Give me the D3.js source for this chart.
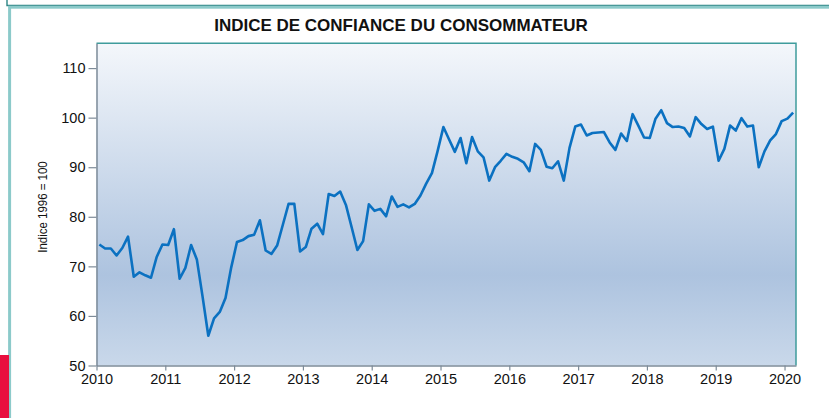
<!DOCTYPE html>
<html>
<head>
<meta charset="utf-8">
<script src="https://cdn.jsdelivr.net/npm/d3@7"></script>
<style>
    body { margin: 0; background: #fff; }
    text { font-family: "Liberation Sans", Arial, sans-serif; }
</style>
</head>
<body>
<svg id="chart" width="829" height="418"></svg>
<script>

// Monthly index, Jan 2010 -> Feb 2020
var values = [
    74.4, 73.6, 73.6, 72.2, 73.7, 76.0, 67.9, 68.8, 68.2, 67.7, 71.9, 74.4,
    74.3, 77.5, 67.5, 69.7, 74.3, 71.4, 63.9, 56.0, 59.5, 60.8, 63.6, 69.8,
    74.9, 75.3, 76.1, 76.4, 79.3, 73.2, 72.5, 74.2, 78.4, 82.6, 82.6, 73.0,
    73.9, 77.6, 78.6, 76.5, 84.6, 84.2, 85.1, 82.4, 77.9, 73.3, 75.1, 82.5,
    81.2, 81.6, 80.1, 84.1, 82.0, 82.5, 81.9, 82.6, 84.3, 86.7, 88.8, 93.3,
    98.1, 95.6, 93.1, 95.9, 90.8, 96.1, 93.2, 92.0, 87.3, 90.0, 91.3, 92.7,
    92.1, 91.7, 91.0, 89.2, 94.7, 93.5, 90.1, 89.8, 91.2, 87.3, 93.9, 98.2,
    98.6, 96.4, 96.9, 97.0, 97.1, 95.0, 93.5, 96.8, 95.3, 100.7, 98.4, 96.0,
    95.9, 99.8, 101.5, 98.9, 98.1, 98.2, 97.9, 96.2, 100.1, 98.7, 97.7, 98.2,
    91.3, 93.7, 98.4, 97.4, 99.9, 98.2, 98.4, 90.0, 93.2, 95.4, 96.7, 99.3,
    99.8, 101.0
];
var startYear = 2010;
var yearTicks = [2010, 2011, 2012, 2013, 2014, 2015, 2016, 2017, 2018, 2019, 2020];
var yTicks = [50, 60, 70, 80, 90, 100, 110];

var title = "INDICE DE CONFIANCE DU CONSOMMATEUR";
var yLabel = "Indice 1996 = 100";

var plot = {left: 96.5, right: 796, top: 43.3, bottom: 365.5};


LineChart = function(_svg, _data) {
    this.svg = _svg;
    this.data = _data;
    this.initVis();
}

LineChart.prototype.initVis = function() {
    var vis = this;

    // page frame bits (outer box, red tab)
    vis.svg.append("path")
        .attr("d", "M7,0 V5.5 H829")
        .attr("fill", "none")
        .attr("stroke", "#2d8585")
        .attr("stroke-width", 1.4);

    vis.svg.append("rect")
        .attr("x", 9.6).attr("y", 7.2)
        .attr("width", 840).attr("height", 430)
        .attr("fill", "none")
        .attr("stroke", "#8ccaca")
        .attr("stroke-width", 3);

    vis.svg.append("rect")
        .attr("x", 0).attr("y", 355)
        .attr("width", 9).attr("height", 63)
        .attr("fill", "#e8103f");

    // background gradient
    var grad = vis.svg.append("defs").append("linearGradient")
        .attr("id", "bg")
        .attr("x1", 0).attr("y1", 0).attr("x2", 0).attr("y2", 1);
    grad.append("stop").attr("offset", "0%").attr("stop-color", "#f4f7fb");
    grad.append("stop").attr("offset", "72%").attr("stop-color", "#adc3df");
    grad.append("stop").attr("offset", "100%").attr("stop-color", "#c9d8ea");

    vis.svg.append("rect")
        .attr("x", plot.left).attr("y", plot.top)
        .attr("width", plot.right - plot.left)
        .attr("height", plot.bottom - plot.top)
        .attr("fill", "url(#bg)");

    // top + right border
    vis.svg.append("path")
        .attr("d", "M" + plot.left + "," + plot.top + " H" + plot.right + " V" + plot.bottom)
        .attr("fill", "none")
        .attr("stroke", "#3f9c9c")
        .attr("stroke-width", 1.5);

    vis.x = d3.scaleLinear()
        .domain([startYear, startYear + vis.data.length / 12])
        .range([plot.left, plot.right]);

    vis.y = d3.scaleLinear()
        .domain([50, 115])
        .range([plot.bottom, plot.top]);

    vis.svg.append("text")
        .attr("x", 401)
        .attr("y", 31)
        .attr("text-anchor", "middle")
        .style("font-size", "17px")
        .style("font-weight", "bold")
        .attr("fill", "#111")
        .text(title);

    // narrow-looking axis title
    vis.svg.append("text")
        .attr("transform", "translate(47,207) rotate(-90) scale(0.85,1)")
        .attr("text-anchor", "middle")
        .style("font-size", "13.5px")
        .attr("fill", "#111")
        .text(yLabel);

    vis.wrangleData();
}

LineChart.prototype.wrangleData = function() {
    var vis = this;

    // month i sits in the middle of its slot
    vis.points = vis.data.map(function(v, i) {
        return {t: startYear + (i + 0.5) / 12, value: v};
    });

    vis.updateVis();
}

LineChart.prototype.updateVis = function() {
    var vis = this;

    var yAxis = d3.axisLeft(vis.y)
        .tickValues(yTicks)
        .tickSize(8)
        .tickPadding(3)
        .tickSizeOuter(0);

    var xAxis = d3.axisBottom(vis.x)
        .tickValues(yearTicks)
        .tickFormat(d3.format("d"))
        .tickSize(5)
        .tickPadding(3)
        .tickSizeOuter(0);

    var gy = vis.svg.append("g")
        .attr("transform", "translate(" + plot.left + ",0)")
        .call(yAxis);

    var gx = vis.svg.append("g")
        .attr("transform", "translate(0," + plot.bottom + ")")
        .call(xAxis);

    [gx, gy].forEach(function(g) {
        g.select(".domain").attr("stroke", "#7d8b98").attr("stroke-width", 1.5);
        g.selectAll(".tick line").attr("stroke", "#7d8b98").attr("stroke-width", 1.2);
        g.selectAll(".tick text")
            .style("font-size", "14.5px")
            .style("font-family", "'Liberation Sans', Arial, sans-serif")
            .attr("fill", "#111");
    });

    var line = d3.line()
        .x(function(d) { return vis.x(d.t); })
        .y(function(d) { return vis.y(d.value); });

    vis.svg.append("path")
        .datum(vis.points)
        .attr("d", line)
        .attr("fill", "none")
        .attr("stroke", "#0b71c1")
        .attr("stroke-width", 2.6)
        .attr("stroke-linejoin", "round");
}

new LineChart(d3.select("#chart"), values);

</script>
</body>
</html>
